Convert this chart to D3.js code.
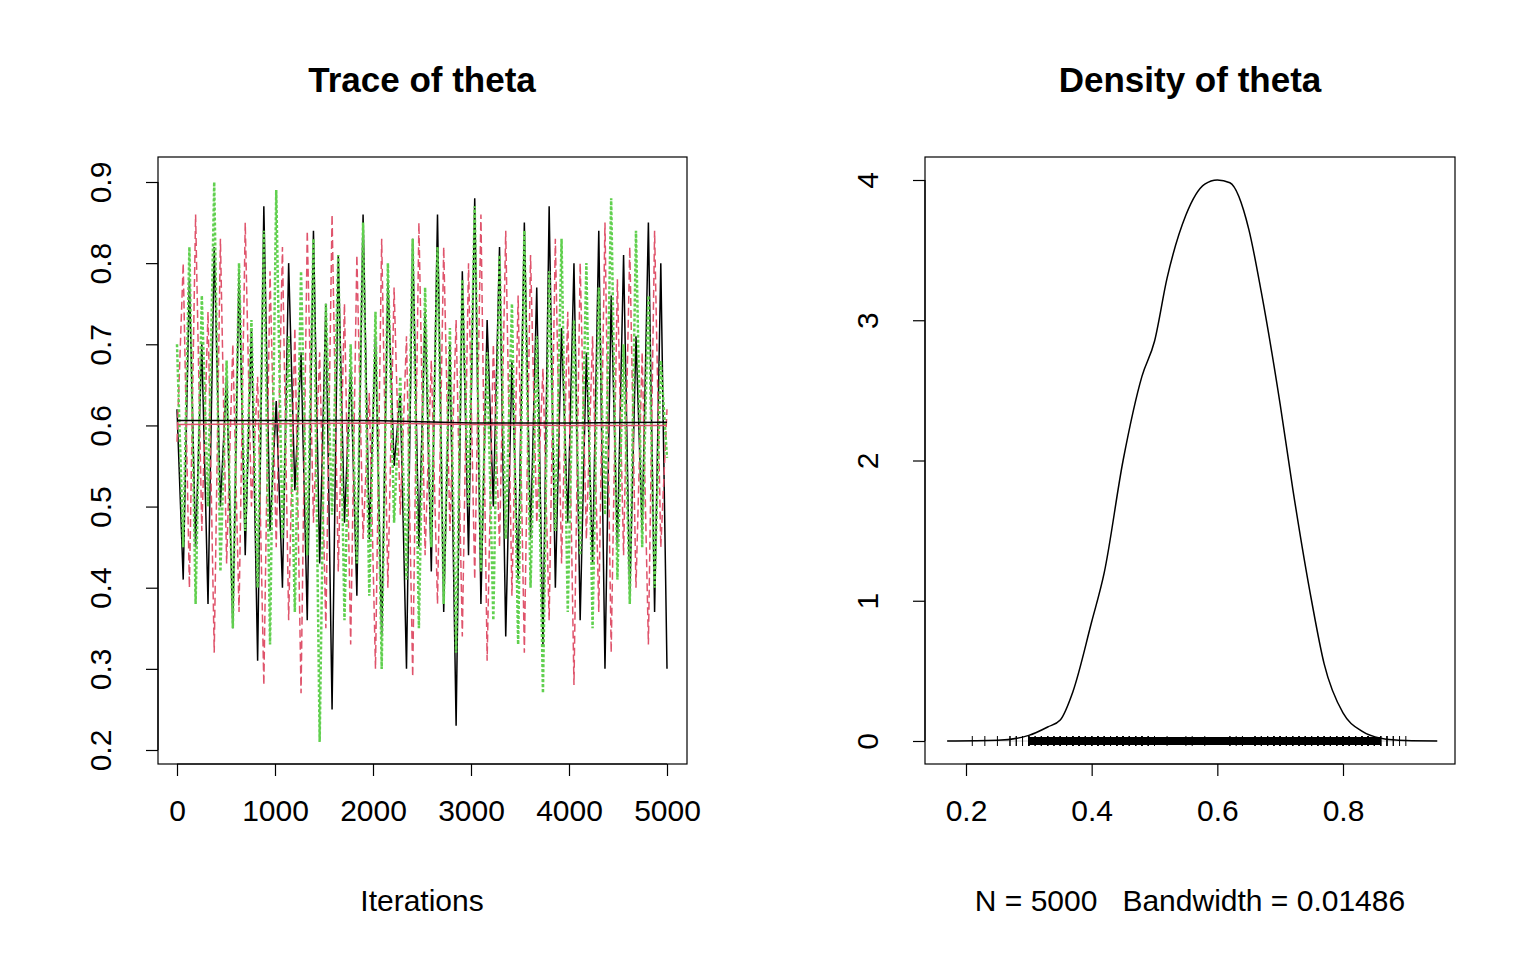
<!DOCTYPE html>
<html><head><meta charset="utf-8">
<script src="https://cdn.jsdelivr.net/npm/d3@7"></script>
<style>body{margin:0;background:#fff}text{font-family:"Liberation Sans",Arial,sans-serif}</style>
</head><body><svg id="c" width="1536" height="960"></svg>
<script>
// chain values (coarse estimates)
var chain1 = [0.62,0.41,0.78,0.45,0.70,0.38,0.82,0.50,0.66,0.35,0.79,0.44,0.72,0.31,0.87,0.47,0.63,0.40,0.80,0.52,0.69,0.36,0.84,0.43,0.75,0.25,0.81,0.48,0.67,0.39,0.86,0.46,0.71,0.34,0.78,0.55,0.64,0.30,0.83,0.45,0.74,0.42,0.86,0.37,0.70,0.23,0.79,0.44,0.88,0.38,0.73,0.50,0.82,0.34,0.68,0.41,0.85,0.46,0.77,0.33,0.87,0.40,0.72,0.48,0.80,0.36,0.69,0.43,0.84,0.30,0.76,0.45,0.81,0.39,0.71,0.47,0.85,0.37,0.80,0.30];
var chain2 = [0.58,0.80,0.40,0.86,0.47,0.74,0.32,0.83,0.43,0.70,0.37,0.85,0.50,0.66,0.28,0.79,0.45,0.82,0.36,0.72,0.27,0.84,0.48,0.69,0.35,0.86,0.42,0.75,0.33,0.81,0.46,0.64,0.30,0.83,0.40,0.77,0.49,0.71,0.29,0.85,0.44,0.68,0.38,0.82,0.47,0.73,0.34,0.80,0.41,0.86,0.31,0.70,0.45,0.84,0.39,0.76,0.32,0.81,0.48,0.67,0.36,0.83,0.43,0.74,0.28,0.80,0.46,0.71,0.37,0.85,0.32,0.78,0.44,0.82,0.40,0.69,0.33,0.84,0.45,0.62];
var chain3 = [0.70,0.45,0.82,0.38,0.76,0.50,0.90,0.42,0.68,0.35,0.80,0.47,0.73,0.40,0.84,0.33,0.89,0.46,0.71,0.37,0.79,0.44,0.83,0.21,0.75,0.49,0.81,0.36,0.70,0.43,0.85,0.39,0.74,0.30,0.80,0.48,0.66,0.41,0.83,0.35,0.77,0.45,0.82,0.38,0.72,0.32,0.78,0.50,0.87,0.42,0.69,0.36,0.81,0.46,0.75,0.33,0.84,0.40,0.71,0.27,0.79,0.47,0.83,0.37,0.73,0.44,0.80,0.35,0.77,0.49,0.88,0.41,0.70,0.38,0.84,0.45,0.76,0.40,0.68,0.56];
var meanIter = [0, 1000, 2000, 3000, 4000, 5000];
var mean1 = [0.606, 0.606, 0.606, 0.603, 0.603, 0.604];
var mean2 = [0.601, 0.602, 0.603, 0.601, 0.600, 0.600];
var densX = [0.17,0.25,0.30,0.33,0.35,0.37,0.40,0.42,0.45,0.48,0.50,0.52,0.55,0.58,0.60,0.62,0.65,0.67,0.70,0.72,0.75,0.77,0.80,0.83,0.86,0.90,0.95];
var densY = [0,0.005,0.04,0.1,0.15,0.35,0.85,1.2,2.0,2.6,2.85,3.3,3.75,3.97,4.0,3.98,3.65,3.2,2.4,1.8,1.0,0.55,0.2,0.07,0.02,0.003,0];
var traceXTicks = [0,1000,2000,3000,4000,5000];
var traceYTicks = [0.2,0.3,0.4,0.5,0.6,0.7,0.8,0.9];
var densXTicks = [0.2,0.4,0.6,0.8];
var densYTicks = [0,1,2,3,4];

var svg = d3.select("#c");
var fs = 30;

function frame(x0,y0,x1,y1){
  svg.append("rect").attr("x",x0).attr("y",y0).attr("width",x1-x0).attr("height",y1-y0)
    .attr("fill","none").attr("stroke","#000").attr("stroke-width",1.2);
}
function axes(x, y, xt, yt, xf, yf, bottom, left){
  var gx = svg.append("g").attr("transform","translate(0,"+bottom+")")
    .call(d3.axisBottom(x).tickValues(xt).tickSize(12).tickPadding(34).tickFormat(xf));
  var gy = svg.append("g").attr("transform","translate("+left+",0)")
    .call(d3.axisLeft(y).tickValues(yt).tickSize(12).tickFormat(yf));
  gx.select(".domain").attr("d","M"+x(xt[0])+",0H"+x(xt[xt.length-1]));
  gy.select(".domain").attr("d","M0,"+y(yt[0])+"V"+y(yt[yt.length-1]));
  [gx,gy].forEach(function(g){
    g.selectAll("path,line").attr("stroke","#000").attr("stroke-width",1.2);
    g.selectAll("text").attr("font-size",fs).attr("fill","#000");
  });
  gx.selectAll(".tick text").attr("dy","0.35em");
  gy.selectAll(".tick text").attr("text-anchor","middle").attr("dy","0.35em")
    .attr("x",0).attr("y",0).attr("transform","translate(-58,0) rotate(-90)");
}

// left: trace
var x1 = d3.scaleLinear().domain([0,5000]).range([177,667]);
var y1 = d3.scaleLinear().domain([0.2,0.9]).range([750,182]);
frame(158,157,687,764);
axes(x1,y1,traceXTicks,traceYTicks,d3.format("d"),d3.format(".1f"),764,158);
var step = 5000/(chain1.length-1);
var line1 = d3.line().x(function(d,i){return x1(i*step);}).y(function(d){return y1(d);});
[[chain1,"#000","none",1.5],[chain2,"#DF536B","8,4",1.5],[chain3,"#61D04F","3,2",2.5]].forEach(function(c){
  svg.append("path").attr("d",line1(c[0])).attr("fill","none").attr("stroke",c[1])
    .attr("stroke-width",c[3]).attr("stroke-dasharray",c[2]);
});
var mline = d3.line().x(function(d,i){return x1(meanIter[i]);}).y(function(d){return y1(d);});
svg.append("path").attr("d",mline(mean1)).attr("fill","none").attr("stroke","#000").attr("stroke-width",1.5);
svg.append("path").attr("d",mline(mean2)).attr("fill","none").attr("stroke","#DF536B").attr("stroke-width",1.5);
svg.append("text").attr("x",422).attr("y",92).attr("text-anchor","middle").attr("font-size",35).attr("font-weight","bold").text("Trace of theta");
svg.append("text").attr("x",422).attr("y",911).attr("text-anchor","middle").attr("font-size",fs).text("Iterations");

// right: density
var x2 = d3.scaleLinear().domain([0.2,0.8]).range([966,1343]);
var y2 = d3.scaleLinear().domain([0,4]).range([741,180]);
frame(925,157,1455,764);
axes(x2,y2,densXTicks,densYTicks,d3.format(".1f"),d3.format("d"),764,925);
svg.append("line").attr("x1",x2(0.17)).attr("x2",x2(0.95)).attr("y1",y2(0)).attr("y2",y2(0)).attr("stroke","#ccc").attr("stroke-width",1);
var rug = chain1.concat(chain2,chain3);
svg.append("g").selectAll("line").data(rug).join("line")
  .attr("x1",function(d){return x2(d);}).attr("x2",function(d){return x2(d);})
  .attr("y1",y2(0)-5).attr("y2",y2(0)+5).attr("stroke","#000").attr("stroke-width",1);
svg.append("rect").attr("x",x2(0.30)).attr("width",x2(0.86)-x2(0.30)).attr("y",y2(0)-4).attr("height",8).attr("fill","#000");
svg.append("path").attr("d",d3.line().curve(d3.curveMonotoneX).x(function(d,i){return x2(densX[i]);}).y(function(d){return y2(d);})(densY))
  .attr("fill","none").attr("stroke","#000").attr("stroke-width",1.5);
svg.append("text").attr("x",1190).attr("y",92).attr("text-anchor","middle").attr("font-size",35).attr("font-weight","bold").text("Density of theta");
svg.append("text").attr("x",1190).attr("y",911).attr("text-anchor","middle").attr("font-size",fs).attr("xml:space","preserve").text("N = 5000   Bandwidth = 0.01486");
</script></body></html>
